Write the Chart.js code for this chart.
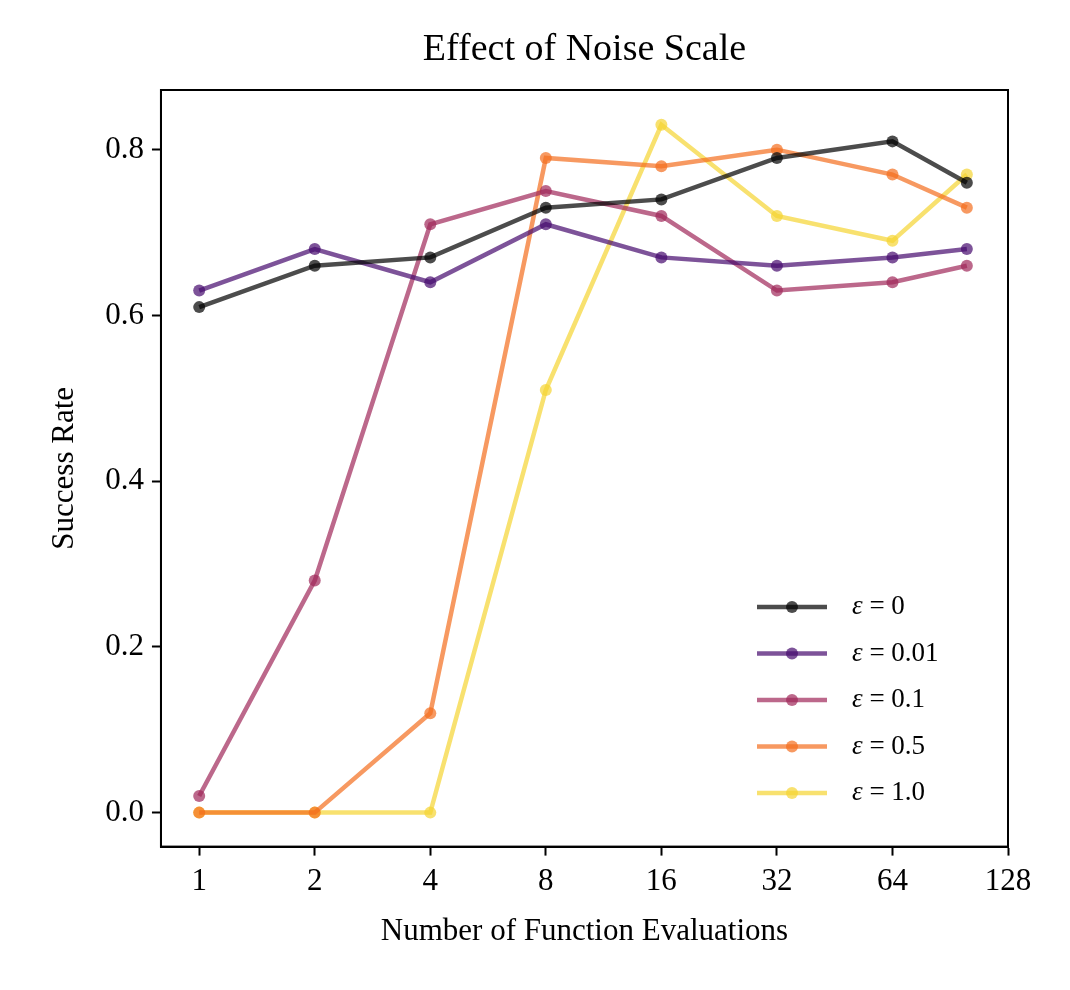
<!DOCTYPE html>
<html>
<head>
<meta charset="utf-8">
<script src="https://cdn.jsdelivr.net/npm/chart.js@4"></script>
<style>
  body { margin: 0; background: #fff; }
  #wrap { width: 1070px; height: 990px; }
</style>
</head>
<body>
<div id="wrap"><canvas id="noise-chart" width="1070" height="990"></canvas></div>
<script>
const nfe = [1, 2, 4, 8, 16, 32, 64, 100];
const xTicks = [1, 2, 4, 8, 16, 32, 64, 128];
const yTicks = [0, 0.2, 0.4, 0.6, 0.8];

const eps0 = [0.61, 0.66, 0.67, 0.73, 0.74, 0.79, 0.81, 0.76];
const eps001 = [0.63, 0.68, 0.64, 0.71, 0.67, 0.66, 0.67, 0.68];
const eps01 = [0.02, 0.28, 0.71, 0.75, 0.72, 0.63, 0.64, 0.66];
const eps05 = [0, 0, 0.12, 0.79, 0.78, 0.80, 0.77, 0.73];
const eps10 = [0, 0, 0, 0.51, 0.83, 0.72, 0.69, 0.77];

const labels = ['ε = 0', 'ε = 0.01', 'ε = 0.1', 'ε = 0.5', 'ε = 1.0'];
const colors = ['rgba(0,0,0,0.7)', 'rgba(70,10,110,0.7)', 'rgba(160,40,90,0.7)',
                'rgba(243,110,30,0.7)', 'rgba(245,212,50,0.7)'];
const series = [eps0, eps001, eps01, eps05, eps10];

const font = '"Liberation Serif", "DejaVu Serif", serif';

const datasets = series.map((vals, i) => ({
  label: labels[i],
  data: vals.map((v, j) => ({ x: nfe[j], y: v })),
  borderColor: colors[i],
  backgroundColor: colors[i],
  borderWidth: 4.5,
  pointRadius: 6,
  pointBorderWidth: 0,
  tension: 0,
}));

const boxAndLegend = {
  id: 'boxAndLegend',
  afterDraw(chart) {
    const { ctx, chartArea: a } = chart;
    ctx.save();
    ctx.strokeStyle = '#000';
    ctx.lineWidth = 2;
    ctx.strokeRect(a.left, a.top, a.right - a.left, a.bottom - a.top);
    // title
    ctx.fillStyle = '#000';
    ctx.font = '38px ' + font;
    ctx.textAlign = 'center';
    ctx.textBaseline = 'middle';
    ctx.fillText('Effect of Noise Scale', (a.left + a.right) / 2, 50);
    ctx.textAlign = 'left';
    // legend
    const x0 = 757, y0 = 607, dy = 46.5;
    labels.forEach((lab, i) => {
      const y = y0 + i * dy;
      ctx.strokeStyle = colors[i];
      ctx.fillStyle = colors[i];
      ctx.lineWidth = 4.5;
      ctx.beginPath(); ctx.moveTo(x0, y); ctx.lineTo(x0 + 70, y); ctx.stroke();
      ctx.beginPath(); ctx.arc(x0 + 35, y, 6, 0, Math.PI * 2); ctx.fill();
      ctx.fillStyle = '#000';
      ctx.font = 'italic 27px ' + font;
      ctx.fillText('ε', x0 + 95, y);
      const w = ctx.measureText('ε').width;
      ctx.font = '27px ' + font;
      ctx.fillText(lab.slice(1), x0 + 95 + w, y);
    });
    ctx.restore();
  }
};

new Chart(document.getElementById('noise-chart'), {
  type: 'line',
  data: { datasets },
  plugins: [boxAndLegend],
  options: {
    responsive: false,
    animation: false,
    devicePixelRatio: 1,
    layout: { padding: { top: 90, right: 62, left: 42, bottom: 36 } },
    plugins: {
      legend: { display: false },
      tooltip: { enabled: false },
      title: { display: false }
    },
    scales: {
      x: {
        type: 'logarithmic', min: 0.795, max: 128,
        afterBuildTicks: s => { s.ticks = xTicks.map(v => ({ value: v })); },
        ticks: { color: '#000', font: { family: font, size: 31 }, callback: v => String(v), maxRotation: 0, padding: 8 },
        grid: { display: true, drawOnChartArea: false, tickLength: 9, tickColor: '#000', tickWidth: 2 },
        border: { display: true, color: '#000', width: 2 },
        title: { display: true, text: 'Number of Function Evaluations', color: '#000', font: { family: font, size: 31 }, padding: { top: 4 } }
      },
      y: {
        min: -0.041, max: 0.872,
        afterBuildTicks: s => { s.ticks = yTicks.map(v => ({ value: v })); },
        ticks: { color: '#000', font: { family: font, size: 31 }, callback: v => v.toFixed(1), padding: 8 },
        grid: { display: true, drawOnChartArea: false, tickLength: 9, tickColor: '#000', tickWidth: 2 },
        border: { display: true, color: '#000', width: 2 },
        title: { display: true, text: 'Success Rate', color: '#000', font: { family: font, size: 31 }, padding: { bottom: 14 } }
      }
    }
  }
});
</script>
</body>
</html>
